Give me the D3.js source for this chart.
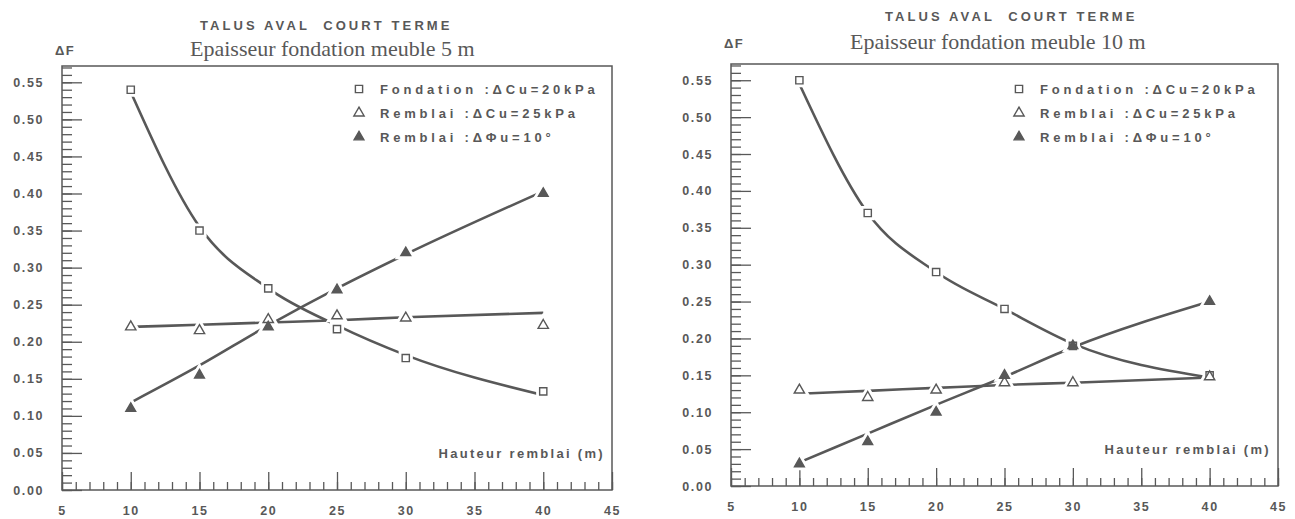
<!DOCTYPE html>
<html>
<head>
<meta charset="utf-8">
<script src="https://cdn.jsdelivr.net/npm/d3@7"></script>
<style>
  body { margin: 0; background: #fff; }
  svg { display: block; }
</style>
</head>
<body>
<svg id="chart"></svg>
<script>
//data
const hauteurs = [10, 15, 20, 25, 30, 40];

//panel 1 : fondation meuble 5 m (markers)
const fondation5 = [0.54, 0.35, 0.272, 0.217, 0.178, 0.133];
const rembCu5 = [0.22, 0.215, 0.23, 0.235, 0.232, 0.222];
const rembPhi5 = [0.11, 0.155, 0.22, 0.27, 0.32, 0.40];
//panel 1 : curves as drawn
const fondation5Curve = [0.537, 0.355, 0.272, 0.222, 0.182, 0.128];
const rembCu5Curve = [0.22, 0.223, 0.226, 0.229, 0.233, 0.239];
const rembPhi5Curve = [0.118, 0.168, 0.222, 0.272, 0.318, 0.403];

//panel 2 : fondation meuble 10 m (markers)
const fondation10 = [0.55, 0.37, 0.29, 0.24, 0.19, 0.15];
const rembCu10 = [0.13, 0.12, 0.13, 0.14, 0.14, 0.148];
const rembPhi10 = [0.03, 0.06, 0.10, 0.15, 0.19, 0.25];
//panel 2 : curves as drawn
const fondation10Curve = [0.545, 0.37, 0.29, 0.24, 0.193, 0.147];
const rembCu10Curve = [0.125, 0.129, 0.133, 0.137, 0.14, 0.147];
const rembPhi10Curve = [0.032, 0.071, 0.11, 0.148, 0.188, 0.25];

const xTicks = [5, 10, 15, 20, 25, 30, 35, 40, 45];
const yTicks = [0, 0.05, 0.1, 0.15, 0.2, 0.25, 0.3, 0.35, 0.4, 0.45, 0.5, 0.55];
const legendLabels = ["Fondation :\u0394Cu=20kPa", "Remblai :\u0394Cu=25kPa", "Remblai :\u0394\u03A6u=10\u00B0"];
const titleText = "TALUS AVAL  COURT TERME";
const subtitles = ["Epaisseur fondation meuble 5 m", "Epaisseur fondation meuble 10 m"];
const xLabel = "Hauteur remblai (m)";
const yLabel = "\u0394F";

const width = 1295, height = 519;
const ink = "#585858";
const sans = "'Liberation Sans', Arial, sans-serif";
const serif = "'Liberation Serif', 'Times New Roman', serif";

const svg = d3.select("#chart").attr("width", width).attr("height", height);

//marker kinds : open square, open triangle, filled triangle
const kinds = [
  { type: d3.symbolSquare, size: 52, fill: "#fff" },
  { type: d3.symbolTriangle, size: 46, fill: "#fff" },
  { type: d3.symbolTriangle, size: 42, fill: ink }
];

function drawPanel(p) {
  const x = d3.scaleLinear().domain([5, 45]).range([p.left, p.right]);
  const y = d3.scaleLinear().domain([0, 0.572]).range([p.bottom, p.top]);
  const g = svg.append("g");

  //frame
  g.append("rect")
    .attr("x", p.left).attr("y", p.top)
    .attr("width", p.right - p.left).attr("height", p.bottom - p.top)
    .attr("fill", "none").attr("stroke", ink).attr("stroke-width", 1.5);

  //minor ticks
  g.append("g")
    .attr("transform", `translate(${p.left},0)`)
    .call(d3.axisLeft(y).tickValues(d3.range(0, 58).map(i => i / 100)).tickSize(-10).tickFormat(""))
    .call(a => a.select(".domain").remove());
  g.append("g")
    .attr("transform", `translate(0,${p.bottom})`)
    .call(d3.axisBottom(x).tickValues(d3.range(5, 46)).tickSize(-8).tickFormat(""))
    .call(a => a.select(".domain").remove());

  //major ticks + labels
  g.append("g")
    .attr("transform", `translate(${p.left},0)`)
    .call(d3.axisLeft(y).tickValues(yTicks).tickSize(-20).tickPadding(18).tickFormat(d3.format(".2f")))
    .call(a => a.select(".domain").remove());
  g.append("g")
    .attr("transform", `translate(0,${p.bottom})`)
    .call(d3.axisBottom(x).tickValues(xTicks).tickSize(-18).tickPadding(16).tickFormat(d3.format("d")))
    .call(a => a.select(".domain").remove());

  g.selectAll(".tick line").attr("stroke-width", 1.3);
  g.selectAll("g").attr("color", ink);
  g.selectAll(".tick text")
    .attr("font-family", sans).attr("font-size", 12.5).attr("font-weight", "bold")
    .style("letter-spacing", "1.6px");

  //curves
  const line = d3.line()
    .x((d, i) => x(hauteurs[i]))
    .y(d => y(d))
    .curve(d3.curveMonotoneX);
  p.curves.forEach(c => {
    g.append("path")
      .attr("d", line(c))
      .attr("fill", "none")
      .attr("stroke", ink)
      .attr("stroke-width", 2.6);
  });

  //white halos so lines stop short of the markers
  p.points.forEach((s, k) => {
    g.append("g").selectAll("path").data(s).join("path")
      .attr("transform", (d, i) => `translate(${x(hauteurs[i])},${y(d)})`)
      .attr("d", d3.symbol(kinds[k].type, kinds[k].size))
      .attr("fill", "#fff").attr("stroke", "#fff").attr("stroke-width", 7);
  });
  p.points.forEach((s, k) => {
    g.append("g").selectAll("path").data(s).join("path")
      .attr("transform", (d, i) => `translate(${x(hauteurs[i])},${y(d)})`)
      .attr("d", d3.symbol(kinds[k].type, kinds[k].size))
      .attr("fill", kinds[k].fill).attr("stroke", ink).attr("stroke-width", 1.4);
  });

  //legend
  const leg = g.append("g").selectAll("g").data(legendLabels).join("g")
    .attr("transform", (d, i) => `translate(${p.legendX},${89 + i * 24})`);
  leg.append("path")
    .attr("d", (d, i) => d3.symbol(kinds[i].type, kinds[i].size)())
    .attr("fill", (d, i) => kinds[i].fill).attr("stroke", ink).attr("stroke-width", 1.4);
  leg.append("text")
    .attr("x", 21).attr("y", 5)
    .attr("font-family", sans).attr("font-size", 13).attr("font-weight", "bold")
    .style("letter-spacing", "3.8px")
    .attr("fill", ink)
    .text(d => d);

  //titles
  g.append("text")
    .attr("x", p.titleX).attr("y", p.titleY)
    .attr("font-family", sans).attr("font-size", 13).attr("font-weight", "bold")
    .style("letter-spacing", "3.1px").style("white-space", "pre")
    .attr("fill", ink).text(titleText);
  g.append("text")
    .attr("x", p.subX).attr("y", p.subY)
    .attr("font-family", serif).attr("font-size", 22)
    .attr("fill", ink).text(p.subtitle);
  g.append("text")
    .attr("x", p.left - 7).attr("y", p.subY - 1)
    .attr("font-family", sans).attr("font-size", 13).attr("font-weight", "bold")
    .style("letter-spacing", "1.5px")
    .attr("fill", ink).text(yLabel);
  g.append("text")
    .attr("x", p.right - 7).attr("y", p.bottom - 32)
    .attr("text-anchor", "end")
    .attr("font-family", sans).attr("font-size", 13).attr("font-weight", "bold")
    .style("letter-spacing", "2.3px")
    .attr("fill", ink).text(xLabel);
}

drawPanel({
  left: 62, right: 612, top: 66, bottom: 490,
  titleX: 200, titleY: 30, subX: 190, subY: 56, legendX: 359,
  subtitle: subtitles[0],
  curves: [fondation5Curve, rembCu5Curve, rembPhi5Curve],
  points: [fondation5, rembCu5, rembPhi5]
});

drawPanel({
  left: 731, right: 1278, top: 64, bottom: 486,
  titleX: 885, titleY: 21, subX: 850, subY: 49, legendX: 1019,
  subtitle: subtitles[1],
  curves: [fondation10Curve, rembCu10Curve, rembPhi10Curve],
  points: [fondation10, rembCu10, rembPhi10]
});
</script>
</body>
</html>
